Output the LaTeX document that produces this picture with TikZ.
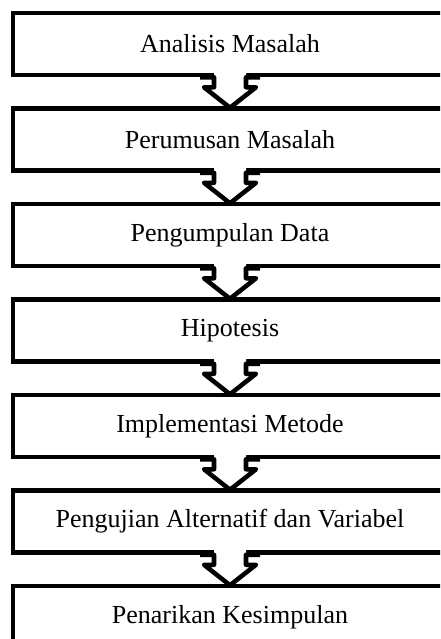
\documentclass[tikz,border=0pt]{standalone}
\usepackage{fontspec}
\setmainfont{Liberation Serif}
\usetikzlibrary{calc}
\tikzset{
  stagebox/.style={draw=black, line width=3.4pt, rectangle, minimum width=434*0.75pt,
    minimum height=62*0.75pt, inner sep=0pt, fill=white,
    font=\fontsize{19.5}{23}\selectfont},
  arrline/.style={draw=black, line width=3.4pt, line join=round, line cap=butt},
}
\begin{document}
\begin{tikzpicture}[x=0.75pt,y=-0.75pt]
\path[use as bounding box, clip] (0,0) rectangle (440,639);
\fill[white] (0,0) rectangle (440,639);
\node[stagebox] (b1) at (230,44) {Analisis Masalah};
\node[stagebox] (b2) at (230,139.5) {Perumusan Masalah};
\node[stagebox] (b3) at (230,235) {Pengumpulan Data};
\node[stagebox] (b4) at (230,330.5) {Hipotesis};
\node[stagebox] (b5) at (230,426) {Implementasi Metode};
\node[stagebox] (b6) at (230,521.5) {Pengujian Alternatif dan Variabel};
\node[stagebox] (b7) at (230,617) {Penarikan Kesimpulan};
\foreach \a/\b in {b1/b2,b2/b3,b3/b4,b4/b5,b5/b6,b6/b7}{
  \fill[white] ($(\a.south)+(-16,-6)$) -- ($(\a.south)+(-16,10)$) -- ($(\a.south)+(-26,10)$)
    -- ($(\b.north)+(0,1.5)$) -- ($(\a.south)+(26,10)$) -- ($(\a.south)+(16,10)$)
    -- ($(\a.south)+(16,-6)$) -- cycle;
  \draw[arrline] ($(\a.south)+(-30,0)$) -- ($(\a.south)+(-16,0)$) -- ($(\a.south)+(-16,10)$)
    -- ($(\a.south)+(-26,10)$) -- ($(\b.north)+(0,1.5)$) -- ($(\a.south)+(26,10)$)
    -- ($(\a.south)+(16,10)$) -- ($(\a.south)+(16,0)$) -- ($(\a.south)+(30,0)$);
}
\end{tikzpicture}
\end{document}
